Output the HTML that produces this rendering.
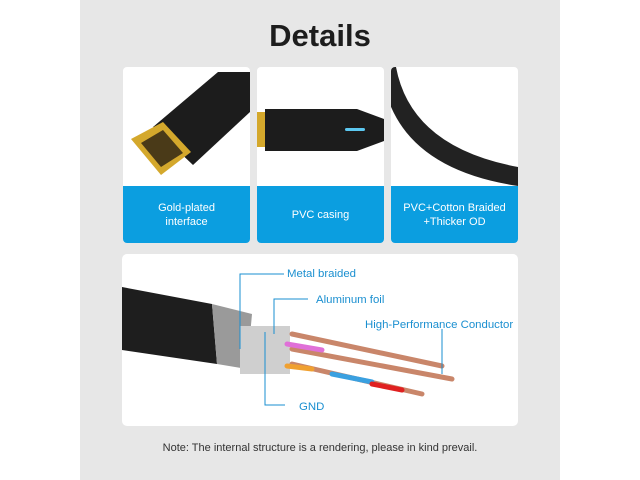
<!DOCTYPE html>
<html><head><style>
body{margin:0;width:640px;height:480px;background:#fff;position:relative;overflow:hidden;font-family:"Liberation Sans",sans-serif}
#bg{position:absolute;left:80px;top:0;width:480px;height:480px;background:#e7e7e7}
h1{position:absolute;left:0;width:640px;top:18px;margin:0;text-align:center;font-size:31px;font-weight:bold;color:#1d1d1d}
.card{position:absolute;top:67px;width:127px;height:176px;background:#fff;border-radius:4px;overflow:hidden}
.cap{position:absolute;left:0;top:119px;width:127px;height:57px;background:#0b9ee0;color:#fff;font-size:11px;display:flex;align-items:center;justify-content:center;text-align:center;line-height:14px}
#panel{position:absolute;left:122px;top:254px;width:396px;height:172px;background:#fff;border-radius:5px;overflow:hidden}
.lb{position:absolute;color:#1a8fd0;font-size:11.4px}
#note{position:absolute;left:0;width:640px;top:442px;text-align:center;font-size:11px;color:#333}
</style></head><body>
<div id="bg"></div>
<h1>Details</h1>
<div class="card" style="left:123px">
<svg width="127" height="119"><polygon points="30,60 95,5 127,5 127,45 70,98" fill="#1c1c1c"/><polygon points="8,72 40,55 68,85 38,108" fill="#d4a82c"/><polygon points="18,76 40,63 60,86 38,100" fill="#4a3a18"/></svg>
<div class="cap">Gold-plated<br>interface</div></div>
<div class="card" style="left:257px">
<svg width="127" height="119"><rect x="0" y="45" width="10" height="35" fill="#d4a82c"/><path d="M8 42 H100 L127 52 V74 L100 84 H8 Z" fill="#1c1c1c"/><rect x="88" y="61" width="20" height="3" rx="1.5" fill="#5cc8f0"/></svg>
<div class="cap">PVC casing</div></div>
<div class="card" style="left:391px">
<svg width="127" height="119"><path d="M5 0 Q20 80 127 100 L127 119 Q0 100 -10 0 Z" fill="#222"/></svg>
<div class="cap">PVC+Cotton Braided<br>+Thicker OD</div></div>
<div id="panel">
<svg width="396" height="172">
<path d="M0 33 L90 50 L95 110 L0 96 Z" fill="#1e1e1e"/>
<path d="M90 50 L130 60 L125 115 L95 110 Z" fill="#9a9a9a"/>
<rect x="118" y="72" width="50" height="48" fill="#cfcfcf"/>
<g stroke-width="5" stroke-linecap="round">
<line x1="170" y1="80" x2="320" y2="112" stroke="#c9866a"/>
<line x1="170" y1="95" x2="330" y2="125" stroke="#c9866a"/>
<line x1="170" y1="110" x2="300" y2="140" stroke="#c9866a"/>
<line x1="165" y1="90" x2="200" y2="96" stroke="#e070d8"/>
<line x1="165" y1="112" x2="190" y2="115" stroke="#f0a030"/>
<line x1="210" y1="120" x2="250" y2="128" stroke="#3aa0e0"/>
<line x1="250" y1="130" x2="280" y2="136" stroke="#e02020"/>
</g>
<g stroke="#1a8fd0" fill="none" stroke-width="1"><path d="M162 20 H118 V95"/><path d="M186 45 H152 V80"/><path d="M320 75 V120"/><path d="M163 151 H143 V78"/></g>
</svg>
<div class="lb" style="left:165px;top:14px">Metal braided</div>
<div class="lb" style="left:194px;top:40px">Aluminum foil</div>
<div class="lb" style="left:243px;top:65px">High-Performance Conductor</div>
<div class="lb" style="left:177px;top:147px">GND</div>
</div>
<div id="note">Note: The internal structure is a rendering, please in kind prevail.</div>
</body></html>
